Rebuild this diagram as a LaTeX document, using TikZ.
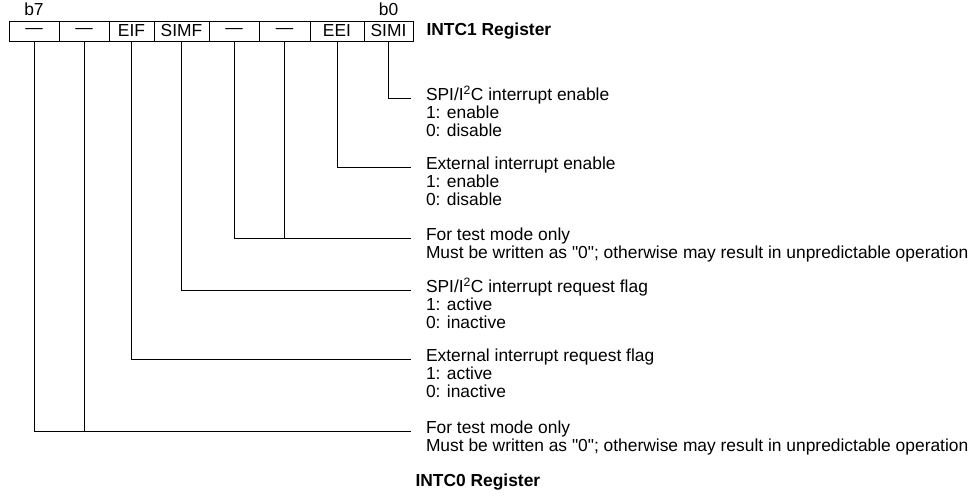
\documentclass[tikz,border=0pt]{standalone}
\usepackage{fontspec}
\setmainfont{Liberation Sans}
\usetikzlibrary{positioning}
\tikzset{field/.style={draw, outer sep=0pt, minimum height=20pt},
         desc/.style={anchor=mid west, outer xsep=15pt},
         elbow/.style={to path={|- (\tikztotarget)}}}
\newcommand{\figfont}{\fontsize{17.4pt}{17.3pt}\selectfont}
\newcommand{\bitdesc}[1]{\begin{tabular}[t]{@{}l@{}}#1\end{tabular}}

\begin{document}
\begin{tikzpicture}[x=1pt, y=-1pt, line width=1pt,
    every node/.style={font=\figfont, inner sep=0pt}]
    \useasboundingbox (0,0) rectangle (977,498);

    \node[field, minimum width=50pt] (r7) at (34,31) {---};
    \node[field, minimum width=50pt] (r6) [right=0pt of r7] {---};
    \node[field, minimum width=45pt] (r5) [right=0pt of r6] {EIF};
    \node[field, minimum width=55pt] (r4) [right=0pt of r5] {SIMF};
    \node[field, minimum width=50pt] (r3) [right=0pt of r4] {---};
    \node[field, minimum width=51pt] (r2) [right=0pt of r3] {---};
    \node[field, minimum width=54pt] (r1) [right=0pt of r2] {EEI};
    \node[field, minimum width=49pt] (r0) [right=0pt of r1] {SIMI};

    \node (lb7) [above=5pt of r7] {b7};
    \node (lb0) [above=5pt of r0] {b0};
    \node[font=\figfont\bfseries] (title1) [right=13pt of r0] {INTC1 Register};

    \node[desc] (d0) at (411,98) {\bitdesc{SPI/I\textsuperscript{2}C interrupt enable\\1: enable\\0: disable}};
    \node[desc] (d1) at (411,167) {\bitdesc{External interrupt enable\\1: enable\\0: disable}};
    \node[desc] (d2) at (411,238) {\bitdesc{For test mode only\\Must be written as \textquotedbl0\textquotedbl; otherwise may result in unpredictable operation}};
    \node[desc] (d3) at (411,290) {\bitdesc{SPI/I\textsuperscript{2}C interrupt request flag\\1: active\\0: inactive}};
    \node[desc] (d4) at (411,359) {\bitdesc{External interrupt request flag\\1: active\\0: inactive}};
    \node[desc] (d5) at (411,431) {\bitdesc{For test mode only\\Must be written as \textquotedbl0\textquotedbl; otherwise may result in unpredictable operation}};

    \node[font=\figfont\bfseries, anchor=mid west] (title0) at (415,484) {INTC0 Register};

    \path (r0.south) edge[elbow] (d0.mid west)
          (r1.south) edge[elbow] (d1.mid west)
          (r3.south) edge[elbow] (d2.mid west)
          (r2.south) edge (r2.south |- d2.mid west)
          (r4.south) edge[elbow] (d3.mid west)
          (r5.south) edge[elbow] (d4.mid west)
          (r7.south) edge[elbow] (d5.mid west)
          (r6.south) edge (r6.south |- d5.mid west);
\end{tikzpicture}
\end{document}
